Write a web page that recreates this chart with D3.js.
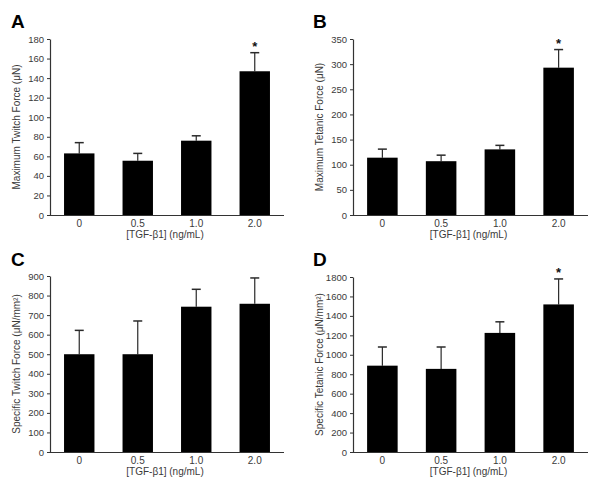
<!DOCTYPE html>
<html><head><meta charset="utf-8">
<script src="https://cdn.jsdelivr.net/npm/d3@7"></script>
<style>body{margin:0;background:#fff}svg{display:block}text{font-family:Arial,"Liberation Sans",sans-serif}</style>
</head><body><svg id="c" width="600" height="489"></svg>
<script>
const categories = ["0", "0.5", "1.0", "2.0"];
const xTitle = "[TGF-\u03b21] (ng/mL)";
const panelLetters = ["A", "B", "C", "D"];
const yTitles = ["Maximum Twitch Force (\u03bcN)", "Maximum Tetanic Force (\u03bcN)", "Specific Twitch Force (\u03bcN/mm\u00b2)", "Specific Tetanic Force (\u03bcN/mm\u00b2)"];
const yMax = [180, 350, 900, 1800];
const yStep = [20, 50, 100, 200];
const meanA = [63, 55.5, 76, 147];
const errA = [74, 63, 81, 166];
const meanB = [114, 107, 130.5, 293];
const errB = [131, 119, 138.5, 329];
const meanC = [500, 500, 743, 758];
const errC = [622, 670, 832, 890];
const meanD = [888, 855, 1225, 1518];
const errD = [1080, 1080, 1339, 1780];
const significant = [[false,false,false,true],[false,false,false,true],[false,false,false,false],[false,false,false,true]];

const means = [meanA, meanB, meanC, meanD];
const errs = [errA, errB, errC, errD];
const frames = [
  {l:50, r:284, t:39, b:215, lx:11, ly:28, tx:20},
  {l:353, r:588, t:39, b:215, lx:313, ly:28, tx:323},
  {l:50, r:284, t:276, b:452, lx:11, ly:266, tx:20},
  {l:353, r:588, t:277, b:452, lx:313, ly:266, tx:323}
];
const svg = d3.select("#c");
const textCol = "#3a3a3a", axisCol = "#333";

frames.forEach((f, i) => {
  const g = svg.append("g");
  const x = d3.scaleBand().domain(categories).range([f.l, f.r]).paddingInner(0.48).paddingOuter(0.24);
  const y = d3.scaleLinear().domain([0, yMax[i]]).range([f.b, f.t]);
  const data = categories.map((c, k) => ({c, m: means[i][k], e: errs[i][k], s: significant[i][k]}));

  // error bars (drawn first so bar covers lower part)
  const eb = g.append("g").attr("stroke", "#2a2a2a").attr("stroke-width", 1.2);
  data.forEach(d => {
    const cx = x(d.c) + x.bandwidth() / 2;
    eb.append("line").attr("x1", cx).attr("x2", cx).attr("y1", y(d.m)).attr("y2", y(d.e));
    eb.append("line").attr("x1", cx - 4.5).attr("x2", cx + 4.5).attr("y1", y(d.e)).attr("y2", y(d.e)).attr("stroke-width", 1.5);
  });
  g.append("g").selectAll("rect").data(data).join("rect")
    .attr("x", d => x(d.c)).attr("width", x.bandwidth())
    .attr("y", d => y(d.m)).attr("height", d => y(0) - y(d.m))
    .attr("fill", "#000");
  g.append("g").selectAll("text").data(data.filter(d => d.s)).join("text")
    .attr("x", d => x(d.c) + x.bandwidth() / 2).attr("y", d => y(d.e) - 1.5)
    .attr("text-anchor", "middle").attr("font-size", 13).attr("font-weight", "bold").attr("fill", "#111").text("*");

  const ya = g.append("g").attr("transform", `translate(${f.l},0)`)
    .call(d3.axisLeft(y).tickValues(d3.range(0, yMax[i] + 1, yStep[i])).tickSize(3).tickSizeOuter(0).tickPadding(3).tickFormat(d3.format("d")));
  ya.select(".domain").attr("stroke", axisCol).attr("stroke-width", 1.2);
  ya.selectAll(".tick line").attr("stroke", axisCol);
  ya.selectAll("text").attr("font-size", 9.5).attr("fill", textCol).attr("font-family", "Arial, 'Liberation Sans', sans-serif");

  const xa = g.append("g").attr("transform", `translate(0,${f.b})`)
    .call(d3.axisBottom(x).tickSize(0).tickSizeOuter(0).tickPadding(5));
  xa.select(".domain").attr("stroke", axisCol).attr("stroke-width", 1.2).attr("d", `M${f.l},0.5H${f.r}`);
  xa.selectAll("text").attr("font-size", 10).attr("fill", textCol).attr("font-family", "Arial, 'Liberation Sans', sans-serif");

  g.append("text").attr("x", (f.l + f.r) / 2 - 2).attr("y", f.b + 23)
    .attr("text-anchor", "middle").attr("font-size", 10).attr("fill", textCol).text(xTitle);
  g.append("text").attr("transform", `translate(${f.tx},${(f.t + f.b) / 2}) rotate(-90)`)
    .attr("text-anchor", "middle").attr("font-size", 10).attr("fill", textCol).text(yTitles[i]);
  g.append("text").attr("x", f.lx).attr("y", f.ly).attr("font-size", 19).attr("font-weight", "bold").attr("fill", "#000").text(panelLetters[i]);
});
</script></body></html>
